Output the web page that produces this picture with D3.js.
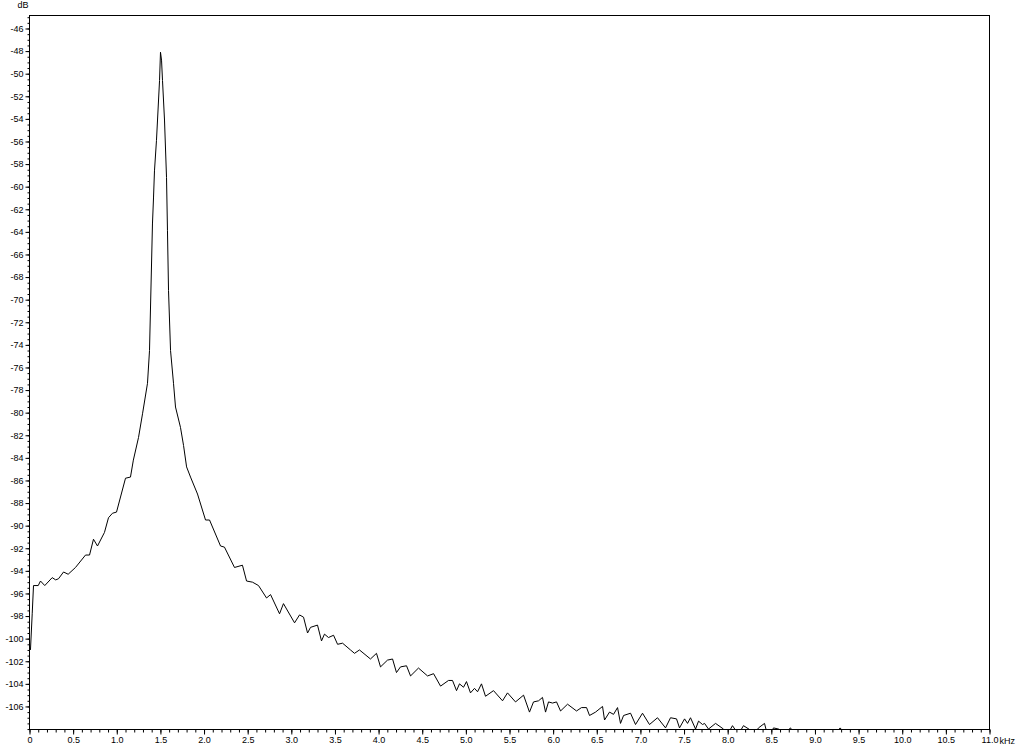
<!DOCTYPE html>
<html>
<head>
<meta charset="utf-8">
<script src="https://cdn.jsdelivr.net/npm/d3@7"></script>
<style>
  body { margin: 0; background: #fff; }
  text { font-family: "Liberation Sans", Arial, sans-serif; font-size: 9px; fill: #000; }
</style>
</head>
<body>
<div id="chart-area"></div>
<script>
// spectrum: frequency (kHz) and level (dB)
var freqKHz = [
  0.011, 0.031, 0.046, 0.10, 0.126, 0.175, 0.26, 0.30, 0.332, 0.39, 0.443, 0.527, 0.642, 0.688, 0.733, 0.779,
  0.859, 0.905, 0.951, 0.997, 1.10, 1.157, 1.19, 1.249, 1.295, 1.352, 1.375, 1.409, 1.421, 1.432, 1.455, 1.467,
  1.49, 1.501, 1.513, 1.524, 1.547, 1.57, 1.581, 1.593, 1.616, 1.65, 1.673, 1.73, 1.765, 1.80, 1.845, 1.925,
  2.017, 2.063, 2.189, 2.234, 2.349, 2.44, 2.487, 2.555, 2.624, 2.716, 2.762, 2.865, 2.91, 3.037, 3.094, 3.14,
  3.186, 3.22, 3.30, 3.346, 3.38, 3.426, 3.484, 3.53, 3.587, 3.678, 3.724, 3.781, 3.907, 3.976, 4.022, 4.102,
  4.16, 4.205, 4.251, 4.32, 4.366, 4.457, 4.561, 4.63, 4.71, 4.801, 4.847, 4.893, 4.927, 4.973, 5.007, 5.053,
  5.099, 5.134, 5.179, 5.225, 5.317, 5.42, 5.477, 5.569, 5.661, 5.729, 5.775, 5.833, 5.878, 5.913, 5.947, 5.993,
  6.039, 6.085, 6.165, 6.268, 6.325, 6.383, 6.417, 6.486, 6.566, 6.589, 6.646, 6.692, 6.738, 6.772, 6.807, 6.887,
  6.944, 7.024, 7.104, 7.196, 7.288, 7.345, 7.414, 7.448, 7.506, 7.54, 7.574, 7.632, 7.666, 7.712, 7.735, 7.78,
  7.861, 7.952, 7.99, 8.055, 8.09, 8.12, 8.181, 8.262, 8.30, 8.353, 8.422, 8.445, 8.48, 8.525, 8.583, 8.65,
  8.72, 8.743, 8.85, 9.0, 9.2, 9.29, 9.38, 9.6, 10.0, 10.5, 11.0
];
var levelDb = [
  -101.0, -97.8, -95.3, -95.3, -94.9, -95.3, -94.6, -94.8, -94.7, -94.1, -94.3, -93.7, -92.6, -92.6, -91.2, -91.8,
  -90.6, -89.3, -88.9, -88.8, -85.8, -85.7, -84.2, -82.2, -80.1, -77.4, -74.5, -63.3, -61.0, -58.6, -55.9, -54.1,
  -50.6, -48.1, -48.8, -50.6, -54.1, -59.2, -63.9, -69.2, -74.5, -77.4, -79.5, -81.3, -82.9, -84.8, -85.7, -87.2,
  -89.5, -89.5, -91.8, -91.9, -93.7, -93.5, -94.9, -95.0, -95.3, -96.4, -96.1, -97.8, -96.9, -98.6, -97.9, -98.1,
  -99.5, -99.0, -98.8, -100.2, -99.6, -99.9, -99.7, -100.5, -100.4, -101.0, -101.3, -101.0, -101.8, -101.3, -102.5, -101.9,
  -101.8, -103.0, -102.5, -102.4, -103.3, -102.6, -103.3, -103.1, -104.2, -103.7, -103.7, -104.6, -104.0, -104.3, -103.8, -104.8,
  -104.4, -104.7, -104.0, -105.1, -104.6, -105.5, -104.8, -105.6, -105.0, -106.5, -105.6, -105.5, -105.2, -106.5, -105.6, -105.7,
  -105.6, -106.4, -105.8, -106.4, -106.1, -106.1, -106.8, -106.5, -106.0, -107.2, -106.5, -106.7, -106.1, -107.5, -106.8, -106.6,
  -107.6, -106.6, -107.6, -107.0, -107.9, -107.0, -107.1, -107.9, -107.1, -107.5, -107.0, -108.0, -107.3, -107.6, -107.5, -108.0,
  -107.5, -108.0, -108.6, -107.7, -108.1, -108.5, -107.7, -108.1, -108.5, -107.9, -107.5, -108.2, -108.6, -107.9, -108.0, -108.4,
  -107.9, -108.2, -109.0, -109.5, -108.6, -107.9, -109.0, -110.0, -110.5, -111.0, -111.5
];
var yLabels = [-46, -48, -50, -52, -54, -56, -58, -60, -62, -64, -66, -68, -70, -72, -74, -76, -78, -80,
  -82, -84, -86, -88, -90, -92, -94, -96, -98, -100, -102, -104, -106];
var xLabels = [0, 0.5, 1.0, 1.5, 2.0, 2.5, 3.0, 3.5, 4.0, 4.5, 5.0, 5.5, 6.0, 6.5, 7.0, 7.5, 8.0, 8.5, 9.0, 9.5, 10.0, 10.5, 11.0];

var data = freqKHz.map(function(f, i) { return {f: f, db: levelDb[i]}; });

var margin = {top: 15, right: 35, bottom: 16, left: 29};
var width = 960;
var height = 714;

var svg = d3.select("#chart-area").append("svg")
  .attr("width", 1024)
  .attr("height", 745);
var g = svg.append("g")
  .attr("transform", "translate(" + (margin.left + 0.5) + "," + (margin.top + 0.5) + ")");

var x = d3.scaleLinear().domain([0, 11]).range([0, width]);
var y = d3.scaleLinear().domain([-108.04, -44.85]).range([height, 0]);

// minor ticks
var xMinor = d3.range(0, 111).map(function(d) { return d / 10; });
var yMinor = d3.range(-216, -89).map(function(d) { return d / 2; });

g.append("g")
  .attr("transform", "translate(0," + height + ")")
  .call(d3.axisBottom(x).tickValues(xMinor).tickSize(3).tickFormat(""))
  .call(function(a) { a.select(".domain").remove(); });
g.append("g")
  .call(d3.axisLeft(y).tickValues(yMinor).tickSize(2).tickFormat(""))
  .call(function(a) { a.select(".domain").remove(); });

// labelled ticks
var xAxis = g.append("g")
  .attr("transform", "translate(0," + height + ")")
  .call(d3.axisBottom(x).tickValues(xLabels).tickSize(5).tickPadding(2)
    .tickFormat(function(d) { return d === 0 ? "0" : d3.format(".1f")(d); }));
xAxis.select(".domain").remove();
xAxis.selectAll("text").attr("font-size", null).attr("font-family", null);

var yAxis = g.append("g")
  .call(d3.axisLeft(y).tickValues(yLabels).tickSize(4).tickPadding(2));
yAxis.select(".domain").remove();
yAxis.selectAll("text").attr("font-size", null).attr("font-family", null)
  .text(function(d) { return "-" + Math.abs(d); });

// frame
g.append("rect")
  .attr("width", width)
  .attr("height", height)
  .attr("fill", "none")
  .attr("stroke", "#000");

g.append("text")
  .attr("x", -12)
  .attr("y", -8)
  .attr("text-anchor", "start")
  .text("dB");
g.append("text")
  .attr("x", width + 10)
  .attr("y", height + 14)
  .text("kHz");

g.append("clipPath").attr("id", "plot-clip")
  .append("rect")
  .attr("x", 0).attr("y", 0)
  .attr("width", width).attr("height", height);

var line = d3.line()
  .x(function(d) { return x(d.f); })
  .y(function(d) { return y(d.db); });

g.append("path")
  .datum(data)
  .attr("clip-path", "url(#plot-clip)")
  .attr("fill", "none")
  .attr("stroke", "#000")
  .attr("stroke-width", 1)
  .attr("d", line);
</script>
</body>
</html>
